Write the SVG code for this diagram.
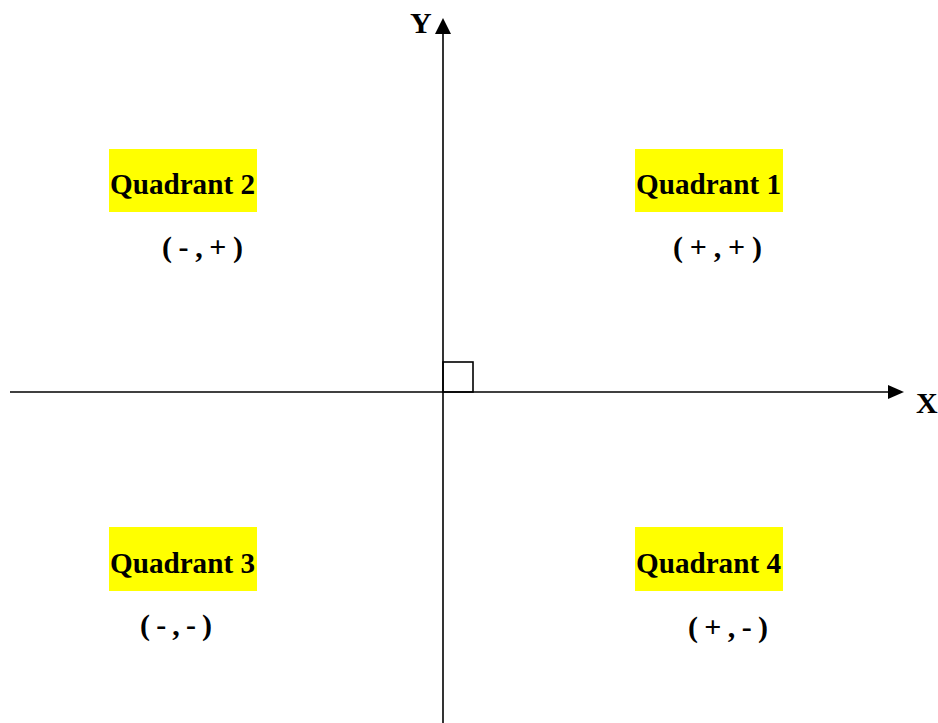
<svg xmlns="http://www.w3.org/2000/svg" width="938" height="723" viewBox="0 0 938 723">
<style>
.axis{stroke:#000;stroke-width:1.6;fill:none}
.hl{fill:#ffff00}
.t{font-family:"Liberation Serif","Times New Roman",serif;font-weight:bold;fill:#000}
.q{font-size:30px}
.c{font-size:30px}
.ax{font-size:30px}
</style>
<rect width="938" height="723" fill="#fff"/>
<g id="connectors">
<line class="axis" x1="443" y1="30" x2="443" y2="723"/>
<polygon points="443,18 451,34 435,34" fill="#000"/>
<line class="axis" x1="10" y1="392" x2="892" y2="392"/>
<polygon points="904,392 888,385 888,399" fill="#000"/>
<rect x="443" y="362" width="30" height="30" fill="none" stroke="#000" stroke-width="1.6"/>
</g>
<g id="label-y"><text class="t ax" x="410" y="33">Y</text></g>
<g id="label-x"><text class="t ax" x="916" y="413">X</text></g>
<g id="quadrant2">
<rect class="hl" x="109" y="149" width="148" height="63"/>
<text class="t q" x="110" y="194" textLength="145" lengthAdjust="spacingAndGlyphs">Quadrant 2</text>
<text class="t c" x="162" y="257" textLength="81" lengthAdjust="spacing">( - , + )</text>
</g>
<g id="quadrant1">
<rect class="hl" x="635" y="149" width="148" height="63"/>
<text class="t q" x="636" y="194" textLength="145" lengthAdjust="spacingAndGlyphs">Quadrant 1</text>
<text class="t c" x="673" y="257" textLength="89" lengthAdjust="spacing">( + , + )</text>
</g>
<g id="quadrant3">
<rect class="hl" x="109" y="527" width="148" height="64"/>
<text class="t q" x="110" y="573" textLength="145" lengthAdjust="spacingAndGlyphs">Quadrant 3</text>
<text class="t c" x="140" y="635" textLength="72" lengthAdjust="spacing">( - , - )</text>
</g>
<g id="quadrant4">
<rect class="hl" x="635" y="527" width="148" height="64"/>
<text class="t q" x="636" y="573" textLength="145" lengthAdjust="spacingAndGlyphs">Quadrant 4</text>
<text class="t c" x="688" y="637" textLength="80" lengthAdjust="spacing">( + , - )</text>
</g>
</svg>
